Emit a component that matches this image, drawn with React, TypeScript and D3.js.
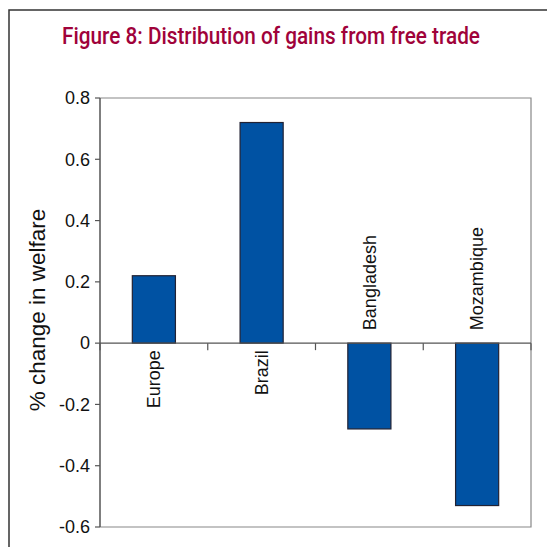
import React from "react";
import * as d3 from "d3";

const categories = ["Europe", "Brazil", "Bangladesh", "Mozambique"];
const values = [0.22, 0.72, -0.28, -0.53];
const yTicks = [0.8, 0.6, 0.4, 0.2, 0, -0.2, -0.4, -0.6];
const tickLabels = ["0.8", "0.6", "0.4", "0.2", "0", "-0.2", "-0.4", "-0.6"];
const title = "Figure 8: Distribution of gains from free trade";
const yTitle = "% change in welfare";

export default function App() {
  const W = 547, H = 547;
  const left = 100, right = 531, top = 98, bottom = 527;
  const y = d3.scaleLinear().domain([-0.6, 0.8]).range([bottom, top]);
  const x = d3.scaleBand().domain(categories).range([left, right]).paddingInner(0).paddingOuter(0);
  const bw = x.bandwidth();
  const barW = bw / 2.5;
  const y0 = y(0);
  const font = "Arial, 'Liberation Sans', sans-serif";
  const boundaries = d3.range(categories.length + 1).map(i => left + i * bw);
  return (
    <svg width={W} height={H} style={{ position: "absolute", left: 0, top: 0 }}>
      <rect x={0} y={0} width={W} height={H} fill="#fff" />
      <rect x={9} y={10} width={W + 20} height={H + 20} fill="none" stroke="#333" strokeWidth={1.5} />
      <text x={271} y={44} textAnchor="middle" fill="#A0023A" fontFamily="Roboto, sans-serif" fontWeight={500} fontSize={23.5}
        textLength={418} lengthAdjust="spacingAndGlyphs">{title}</text>
      {/* plot border */}
      <path d={`M${left},${top}H${right}V${bottom}H${left}`} fill="none" stroke="#888" strokeWidth={1.2} />
      {/* bars */}
      {categories.map((c, i) => {
        const v = values[i];
        const cx = x(c)! + bw / 2;
        const yTop = y(Math.max(0, v));
        const yBot = y(Math.min(0, v));
        return (
          <rect key={c} x={cx - barW / 2} y={yTop} width={barW} height={yBot - yTop}
            fill="#0052A3" stroke="#222233" strokeWidth={1.2} />
        );
      })}
      {/* y axis */}
      <line x1={left} x2={left} y1={top} y2={bottom} stroke="#555" strokeWidth={1.5} />
      {yTicks.map((t, i) => (
        <g key={i}>
          <line x1={left - 5} x2={left} y1={y(t)} y2={y(t)} stroke="#555" strokeWidth={1.2} />
          <text x={90} y={y(t)} dy="0.35em" textAnchor="end" fontFamily={font} fontSize={18} fill="#111">{tickLabels[i]}</text>
        </g>
      ))}
      {/* x axis */}
      <line x1={left} x2={right} y1={y0} y2={y0} stroke="#555" strokeWidth={1.2} />
      {boundaries.map((bx, i) => (
        <line key={i} x1={bx} x2={bx} y1={y0} y2={y0 + 7} stroke="#555" strokeWidth={1.2} />
      ))}
      {categories.map((c, i) => {
        const cx = x(c)! + bw / 2;
        const pos = values[i] >= 0;
        const ly = pos ? y0 + 7 : y0 - 13;
        return (
          <text key={c} transform={`translate(${cx},${ly}) rotate(-90)`} dy="0.35em"
            textAnchor={pos ? "end" : "start"} fontFamily={font} fontSize={18} fill="#111">{c}</text>
        );
      })}
      <text transform={`translate(37,310) rotate(-90)`} dy="0.35em" textAnchor="middle" fontFamily={font} fontSize={22.5} fill="#111">{yTitle}</text>
    </svg>
  );
}
